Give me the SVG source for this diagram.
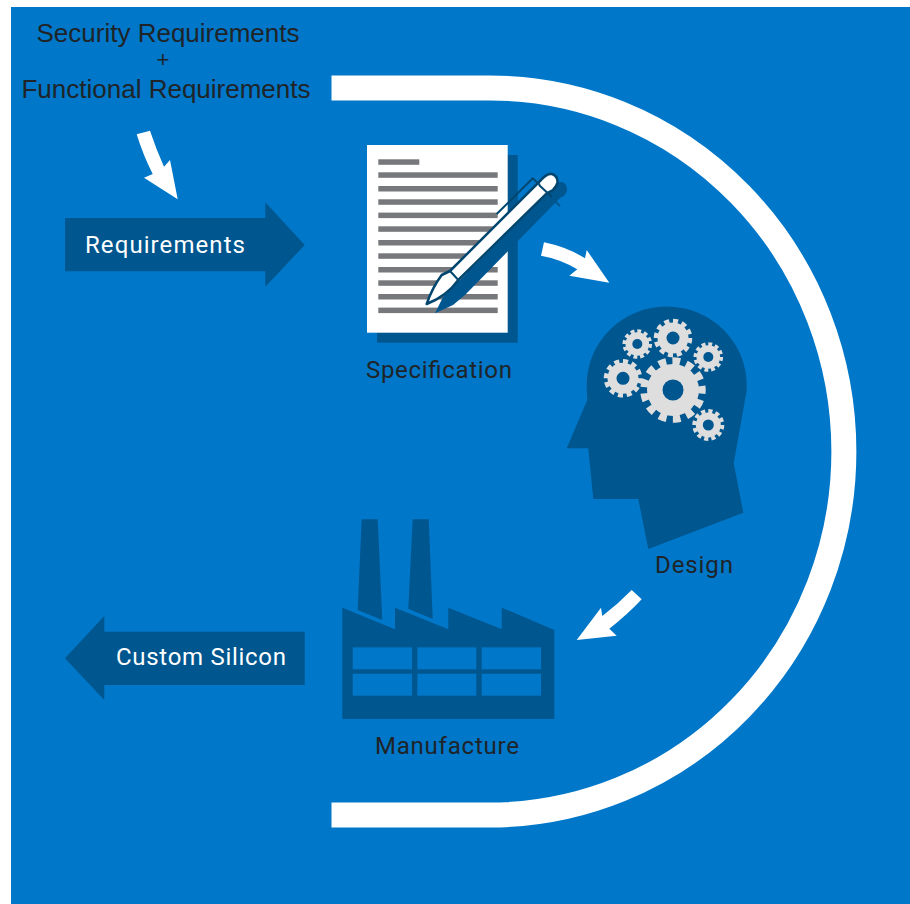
<svg xmlns="http://www.w3.org/2000/svg" width="910" height="904" viewBox="0 0 910 904">
<style>
.dark{fill:#00568E}
.white{fill:#fff}
.blue{fill:#0077C8}
.lab{font-family:"Roboto","Liberation Sans",sans-serif;font-size:24px;fill:#1f2428}
.wlab{font-family:"Roboto","Liberation Sans",sans-serif;font-size:24px;fill:#fff}
.top{font-family:"Liberation Sans",Arial,sans-serif;font-size:26px;fill:#1f2428;text-anchor:middle}
.line{fill:#76787b}
.gear{fill:#DEDEDE}
.teeth{fill:none;stroke:#DEDEDE}
.hole{fill:#00568E}
.pen{fill:#fff;stroke:#00466f;stroke-width:2.500;stroke-linejoin:round}
</style>
<rect x="0" y="0" width="910" height="904" fill="#fff"/>
<rect x="11" y="7" width="899" height="897" class="blue"/>
<path id="bracket" d="M331.500 88H490A354 363.500 0 0 1 490 815H331.500" fill="none" stroke="#fff" stroke-width="25"/>

<g id="title">
<text class="top" x="168" y="42">Security Requirements</text>
<text class="top" x="163" y="67" style="font-size:22px">+</text>
<text class="top" x="166" y="97.500">Functional Requirements</text>
</g>

<g id="requirements">
<polygon class="dark" points="65,218 265.300,218 265.300,202.300 304.700,245 265.300,286.700 265.300,271.300 65,271.300"/>
<text class="wlab" x="85" y="252.500" textLength="160">Requirements</text>
</g>

<g id="specification">
<rect class="dark" x="377" y="155" width="140.700" height="187.700"/>
<rect class="white" x="367" y="145" width="140.700" height="187.700"/>
<g class="line">
<rect x="378.300" y="159.300" width="41" height="5.500"/>
<rect x="378.300" y="172.300" width="119.400" height="5.500"/>
<rect x="378.300" y="186" width="119.400" height="5.500"/>
<rect x="378.300" y="199.300" width="119.400" height="5.500"/>
<rect x="378.300" y="212.600" width="119.400" height="5.500"/>
<rect x="378.300" y="226.300" width="119.400" height="5.500"/>
<rect x="378.300" y="240" width="119.400" height="5.500"/>
<rect x="378.300" y="253.300" width="119.400" height="5.500"/>
<rect x="378.300" y="267" width="119.400" height="5.500"/>
<rect x="378.300" y="280.300" width="119.400" height="5.500"/>
<rect x="378.300" y="294" width="119.400" height="5.500"/>
<rect x="378.300" y="307.600" width="119.400" height="5.500"/>
</g>
<path class="dark" d="M435 313.300L443 297 553 187Q558 181.500 562 182 567 183 567 190 566.500 195 560 198L465 295 453 305Z"/>
<path d="M546.700 193.300L560 206" stroke="#00568E" stroke-width="2" fill="none"/>
<path class="pen" d="M426.700 304Q432 288 441.700 275L450 271 541 180Q547 173 552 174 558 176 557.500 182.500 557 186 553 190L546.700 193.300 458.300 280Q447 296 426.700 304Z"/>
<path d="M450 271L458.300 280M539 185L551.700 196.700M496.700 214L532.700 178.300 540 185" fill="none" stroke="#00466f" stroke-width="2"/>
<text class="lab" x="366" y="377.500" textLength="146">Specification</text>
</g>

<g id="design">
<path class="dark" d="M566.700 448.300H588.300L593.300 499H638.300L648.300 549 743.300 512.700 733.700 463.300 745.500 397C747 392 746.700 388 746.700 385A80 78.500 0 0 0 586.700 385Q586.700 392 587.300 400Z"/>
<g id="gears">
<circle class="gear" cx="673" cy="390" r="26"/><circle class="teeth" cx="673" cy="390" r="29" stroke-width="7.500" pathLength="26" stroke-dasharray="1.100 .900" transform="rotate(-8 673 390)"/><circle class="hole" cx="673" cy="390" r="10.500"/>
<circle class="gear" cx="673" cy="338" r="15.500"/><circle class="teeth" cx="673" cy="338" r="17" stroke-width="4.500" pathLength="24" stroke-dasharray="1.150 .850"/><circle class="hole" cx="673" cy="338" r="6.500"/>
<circle class="gear" cx="637.300" cy="344" r="11.800"/><circle class="teeth" cx="637.300" cy="344" r="13" stroke-width="3.600" pathLength="24" stroke-dasharray="1.150 .850"/><circle class="hole" cx="637.300" cy="344" r="5"/>
<circle class="gear" cx="708.300" cy="357" r="11.800"/><circle class="teeth" cx="708.300" cy="357" r="13" stroke-width="3.600" pathLength="24" stroke-dasharray="1.150 .850"/><circle class="hole" cx="708.300" cy="357" r="5"/>
<circle class="gear" cx="623" cy="378.300" r="15.500"/><circle class="teeth" cx="623" cy="378.300" r="17" stroke-width="4.500" pathLength="24" stroke-dasharray="1.150 .850"/><circle class="hole" cx="623" cy="378.300" r="6.500"/>
<circle class="gear" cx="708.300" cy="425" r="12.500"/><circle class="teeth" cx="708.300" cy="425" r="14" stroke-width="4" pathLength="24" stroke-dasharray="1.150 .850"/><circle class="hole" cx="708.300" cy="425" r="5.500"/>
</g>
<text class="lab" x="655" y="572.500" textLength="78">Design</text>
</g>

<g id="manufacture">
<polygon class="dark" points="361.700,519.300 377.700,519.300 382.300,620 357.700,610"/>
<polygon class="dark" points="412.700,519.300 428.700,519.300 432.700,619 408.300,608.700"/>
<polygon class="dark" points="342.300,607.700 395,629.300 395,607.700 448.300,629.300 448.300,607.700 501.700,629.300 501.700,607.700 554.300,630 554.300,719 342.300,719"/>
<g class="blue">
<rect x="352.700" y="647.300" width="59.300" height="22"/>
<rect x="417.300" y="647.300" width="59" height="22"/>
<rect x="481.700" y="647.300" width="59.300" height="22"/>
<rect x="352.700" y="673.700" width="59.300" height="22"/>
<rect x="417.300" y="673.700" width="59" height="22"/>
<rect x="481.700" y="673.700" width="59.300" height="22"/>
</g>
<text class="lab" x="375" y="753.500" textLength="144">Manufacture</text>
</g>

<g id="custom-silicon">
<polygon class="dark" points="65,658.300 104.300,616 104.300,631.700 304.700,631.700 304.700,685 104.300,685 104.300,700"/>
<text class="wlab" x="116" y="665" textLength="170">Custom Silicon</text>
</g>

<g id="connectors" class="white">
<path d="M136.700 134.300L150 130.700Q156 149 164 166.700L170 160 177.700 199.300 144 177.700 152.700 174Q143 155 136.700 134.300Z"/>
<path d="M544 242.300Q567 247 585 258.300L586.700 250 609.300 282.700 569.300 275.700 577.300 269.300Q560 259 541 255.700Z"/>
<path d="M631.700 590L641.700 599.300Q627 615 609.300 628.700L616.700 635.700 576.700 640 601 607.700 602.300 616Q618 604 631.700 590Z"/>
</g>
</svg>
